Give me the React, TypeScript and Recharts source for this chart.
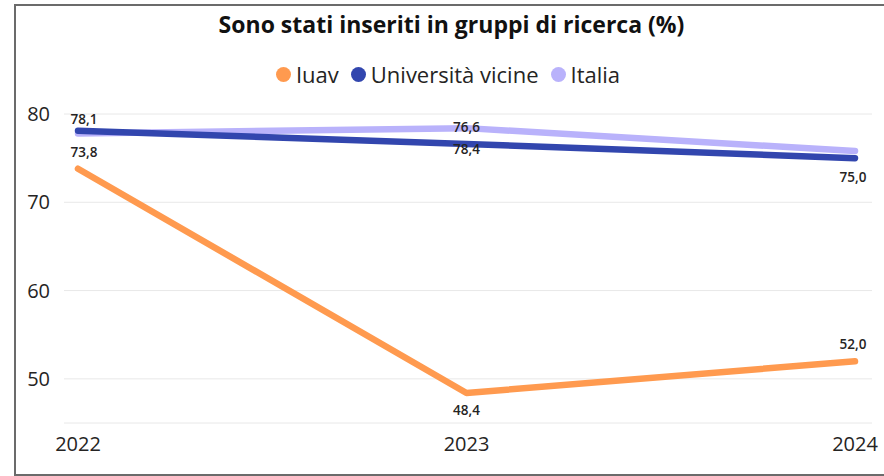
import React from 'react'
import { LineChart, Line, XAxis, YAxis, CartesianGrid, LabelList } from 'recharts'

const years = ['2022', '2023', '2024']
const iuav = [73.8, 48.4, 52.0]
const universitaVicine = [78.1, 76.6, 75.0]
const italia = [77.8, 78.4, 75.8]
const yTicks = [50, 60, 70, 80]

// which labels are shown and how far from the point (px, negative = above)
const iuavLabelDy = [-17, 17, -17]
const uniLabelDy = [-12, -17, 19]
const italiaLabelDy = [null, 21, null]

const data = years.map((year, i) => ({
  year,
  iuav: iuav[i],
  uni: universitaVicine[i],
  italia: italia[i],
}))

const series = [
  { key: 'iuav', name: 'Iuav', color: '#FF9A4F', offsets: iuavLabelDy },
  { key: 'uni', name: 'Università vicine', color: '#3246AE', offsets: uniLabelDy },
  { key: 'italia', name: 'Italia', color: '#B9B2FB', offsets: italiaLabelDy },
]

const FONT = '"Open Sans", "Noto Sans", sans-serif'

const makeLabel = (offsets: (number | null)[]) => (props: any) => {
  const { x, y, value, index } = props
  const dy = offsets[index]
  if (dy === null || dy === undefined) return null
  const dx = index === 0 ? 6 : index === years.length - 1 ? -2 : 0
  return (
    <text
      x={x + dx}
      y={y + dy}
      textAnchor="middle"
      dominantBaseline="central"
      fontFamily={FONT}
      fontSize={13.5}
      fontWeight={600}
      fill="#252423"
    >
      {Number(value).toFixed(1).replace('.', ',')}
    </text>
  )
}

const App = () => {
  // draw order: Italia under Università
  const drawOrder = [series[2], series[1], series[0]]
  return (
    <div
      style={{
        position: 'absolute',
        left: 0,
        top: 0,
        width: 884,
        height: 476,
        overflow: 'hidden',
        background: '#fff',
        fontFamily: FONT,
      }}
    >
      <div
        style={{
          position: 'absolute',
          left: 14,
          top: 4,
          width: 900,
          height: 468,
          border: '2px solid #6b6b6b',
          borderRight: 'none',
        }}
      />
      <div
        style={{
          position: 'absolute',
          left: 0,
          width: 903,
          top: 8,
          textAlign: 'center',
          fontSize: 23,
          lineHeight: '32px',
          fontWeight: 700,
          color: '#111',
        }}
      >
        Sono stati inseriti in gruppi di ricerca (%)
      </div>
      <div
        style={{
          position: 'absolute',
          left: 0,
          width: 908,
          top: 59,
          display: 'flex',
          justifyContent: 'center',
          alignItems: 'center',
          fontSize: 22,
          lineHeight: '30px',
          color: '#252423',
        }}
      >
        {series.map((s) => (
          <span key={s.key} style={{ display: 'flex', alignItems: 'center', marginRight: 12 }}>
            <span
              style={{
                width: 15,
                height: 15,
                borderRadius: '50%',
                background: s.color,
                marginRight: 5,
              }}
            />
            {s.name}
          </span>
        ))}
      </div>
      <div style={{ position: 'absolute', left: 0, top: 0 }}>
        <LineChart
          width={884}
          height={476}
          data={data}
          margin={{ top: 114, right: 12, bottom: 23, left: 0 }}
        >
          <CartesianGrid vertical={false} stroke="#e8e8e8" />
          <XAxis
            dataKey="year"
            axisLine={false}
            tickLine={false}
            tickMargin={8}
            padding={{ left: 14, right: 17 }}
            tick={{ fontFamily: FONT, fontSize: 20, fill: '#252423' }}
          />
          <YAxis
            width={64}
            domain={[45, 80]}
            ticks={yTicks}
            axisLine={false}
            tickLine={false}
            tickMargin={8}
            tick={{ fontFamily: FONT, fontSize: 20, fill: '#252423' }}
          />
          {drawOrder.map((s) => (
            <Line
              key={s.key}
              type="linear"
              dataKey={s.key}
              name={s.name}
              stroke={s.color}
              strokeWidth={6.5}
              strokeLinecap="round"
              strokeLinejoin="round"
              dot={false}
              activeDot={false}
              isAnimationActive={false}
            >
              <LabelList dataKey={s.key} content={makeLabel(s.offsets)} />
            </Line>
          ))}
        </LineChart>
      </div>
    </div>
  )
}

export default App
